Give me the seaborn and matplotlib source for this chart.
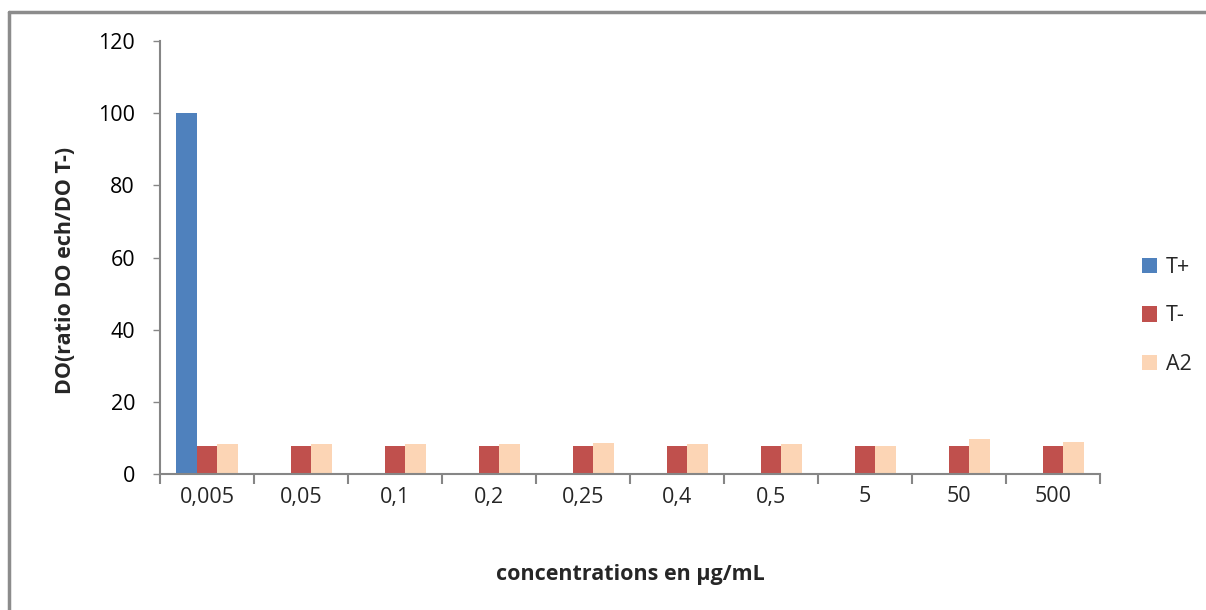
import matplotlib
matplotlib.use("Agg")
import matplotlib.pyplot as plt
from matplotlib.lines import Line2D
import seaborn as sns
import pandas as pd
import numpy as np

# Concentrations tested (µg/mL) and the three series
concentrations = ["0,005", "0,05", "0,1", "0,2", "0,25", "0,4", "0,5", "5", "50", "500"]
t_plus = [100, 0, 0, 0, 0, 0, 0, 0, 0, 0]
t_minus = [7.8, 7.8, 7.8, 7.8, 7.8, 7.8, 7.8, 7.8, 7.8, 7.8]
a2 = [8.2, 8.2, 8.4, 8.2, 8.5, 8.2, 8.2, 7.7, 9.8, 8.9]

series_names = ["T+", "T-", "A2"]
palette = ["#4F81BD", "#C0504D", "#FCD5B5"]

df = pd.DataFrame({
    "conc": concentrations * 3,
    "serie": ["T+"] * 10 + ["T-"] * 10 + ["A2"] * 10,
    "val": t_plus + t_minus + a2,
})

sns.set_theme(style="white")
plt.rcParams["font.family"] = ["Open Sans", "DejaVu Sans"]

FS = 15.5

fig = plt.figure(figsize=(12.06, 6.10), dpi=100)
ax = fig.add_axes([160 / 1206, 1 - 474 / 610, 940 / 1206, 433 / 610])

sns.barplot(data=df, x="conc", y="val", hue="serie", hue_order=series_names,
            palette=palette, width=0.67, saturation=1, ax=ax, errorbar=None,
            linewidth=0)

axis_gray = "#868686"
ax.set_xlim(-0.5, 9.5)
ax.set_ylim(0, 120)
ax.set_yticks(np.arange(0, 121, 20))
ax.tick_params(axis="y", labelsize=FS, colors="black", length=5, width=1,
               direction="out", color=axis_gray, pad=13, left=True)

# Category ticks at group boundaries, labels centred under each group
ax.set_xticks(np.arange(-0.5, 10, 1))
ax.set_xticklabels([])
ax.set_xticks(np.arange(10), minor=True)
ax.set_xticklabels(concentrations, minor=True)
ax.tick_params(axis="x", which="major", length=7, width=1.5, color=axis_gray,
               direction="out", bottom=True)
ax.tick_params(axis="x", which="minor", length=0, labelsize=FS, pad=9)

for side in ["top", "right"]:
    ax.spines[side].set_visible(False)
for side in ["left", "bottom"]:
    ax.spines[side].set_color(axis_gray)
    ax.spines[side].set_linewidth(1.5)

ax.set_xlabel("concentrations en µg/mL", fontsize=FS, fontweight="bold",
              labelpad=41)
ax.set_ylabel("DO(ratio DO ech/DO T-)", fontsize=FS, fontweight="bold")
ax.yaxis.set_label_coords(-84 / 940, 0.47)

leg = ax.legend(loc="center left", bbox_to_anchor=(1.024, 0.365), frameon=False,
                fontsize=FS, handlelength=0.72, handleheight=0.72,
                labelspacing=1.28, handletextpad=0.4)

# Outer chart frame
fig.add_artist(Line2D([9 / 1206, 9 / 1206], [0, 1 - 12 / 610],
                      transform=fig.transFigure, color="#8c8c8c", lw=2.5))
fig.add_artist(Line2D([9 / 1206, 1], [1 - 12 / 610, 1 - 12 / 610],
                      transform=fig.transFigure, color="#8c8c8c", lw=2.5))

fig.savefig("out.png", dpi=100)
